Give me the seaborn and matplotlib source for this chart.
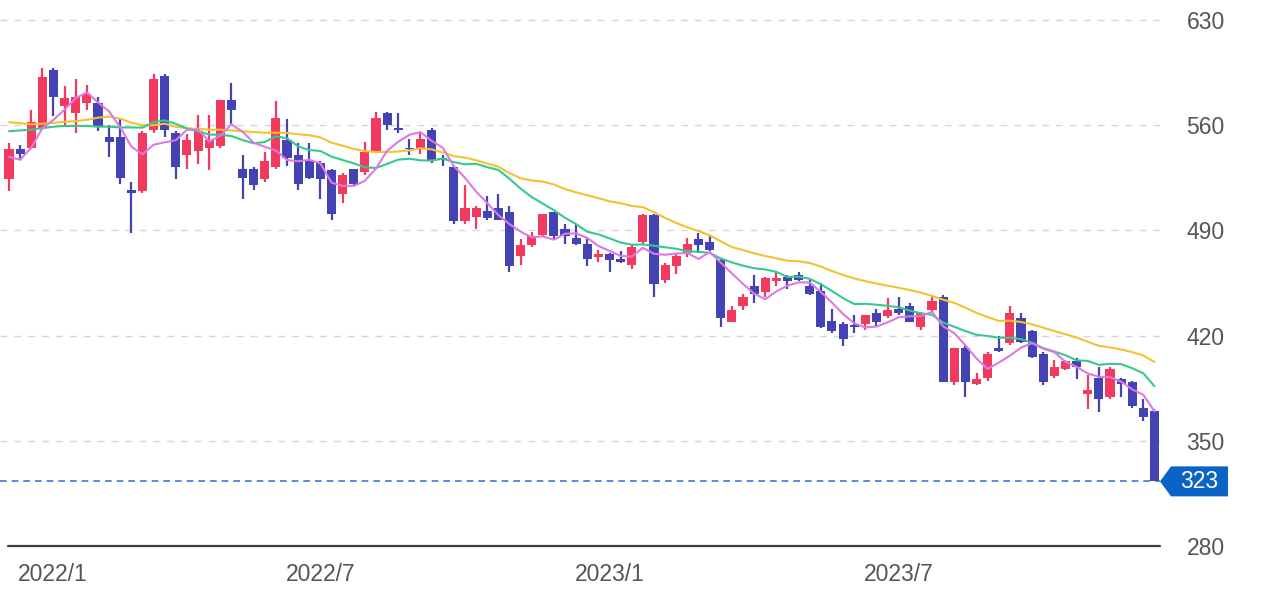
import numpy as np
import pandas as pd
import matplotlib
matplotlib.use("Agg")
import matplotlib.pyplot as plt
import seaborn as sns
from matplotlib.patches import Polygon
from matplotlib import transforms

# ---------------- data (weekly candles) ----------------
dates = pd.date_range("2021-12-20", periods=104, freq="7D")

opens = [524, 544, 545, 558, 597, 573, 568, 575, 575, 552, 552, 517, 516, 557, 593, 555,
         540, 543, 545, 546, 577, 531, 531, 524, 532, 550, 540, 536, 535, 530, 514, 531,
         529, 542, 568, 558, 545, 545, 557, 538, 532, 496, 499, 503, 505, 502, 473, 480,
         487, 502, 491, 485, 481, 472, 474, 471, 467, 482, 500, 457, 466, 475, 484, 482,
         470, 429, 440, 453, 449, 456, 459, 460, 453, 450, 430, 428, 427, 428, 435, 433,
         438, 440, 426, 437, 446, 389, 412, 388, 392, 412, 415, 432, 423, 408, 393, 398,
         403, 381, 392, 379, 391, 389, 372, 370]
highs = [548, 547, 570, 598, 598, 586, 591, 587, 579, 560, 565, 522, 556, 594, 594, 556,
         554, 567, 567, 577, 588, 540, 532, 542, 576, 564, 548, 548, 536, 531, 528, 531,
         549, 569, 569, 568, 551, 555, 558, 540, 533, 520, 506, 513, 514, 506, 484, 489,
         501, 502, 494, 494, 484, 477, 475, 476, 481, 501, 501, 468, 474, 485, 488, 486,
         471, 440, 448, 460, 459, 463, 460, 462, 457, 455, 438, 429, 434, 434, 438, 445,
         446, 442, 436, 446, 447, 412, 413, 395, 409, 420, 440, 435, 424, 409, 404, 404,
         405, 394, 399, 399, 392, 390, 378, 371]
lows = [516, 537, 544, 557, 566, 560, 555, 570, 556, 539, 521, 488, 515, 555, 552, 524,
        531, 534, 530, 545, 561, 511, 517, 522, 531, 533, 517, 524, 511, 497, 508, 520,
        527, 542, 557, 555, 540, 541, 535, 533, 494, 494, 491, 497, 497, 462, 467, 479,
        486, 484, 481, 480, 466, 469, 462, 468, 464, 481, 446, 455, 461, 472, 475, 476,
        426, 429, 437, 442, 446, 453, 451, 456, 447, 425, 422, 413, 422, 424, 426, 432,
        434, 429, 424, 436, 389, 387, 379, 387, 390, 409, 414, 415, 405, 387, 392, 397,
        391, 371, 369, 378, 379, 372, 363, 323]
closes = [544, 541, 562, 592, 579, 578, 579, 581, 559, 549, 525, 515, 555, 591, 557, 532,
          550, 556, 550, 577, 570, 525, 520, 536, 565, 538, 521, 525, 524, 501, 527, 521,
          542, 565, 560, 557, 544, 551, 536, 537, 496, 505, 505, 498, 497, 466, 480, 486,
          501, 486, 486, 481, 471, 474, 470, 469, 479, 500, 454, 467, 473, 481, 480, 477,
          432, 437, 446, 448, 458, 458, 456, 457, 448, 426, 423, 418, 426, 434, 429, 437,
          435, 429, 435, 443, 389, 412, 389, 391, 408, 410, 435, 416, 406, 389, 399, 403,
          399, 384, 378, 398, 388, 373, 366, 323]

ma5_lead = [539, 537, 545, 558]
ma13_lead = [556, 556.5, 557, 558, 559, 559.5, 559.5, 559.5, 559, 559, 558.5, 558.5]
ma26_lead = [562, 561.3, 560.6, 561, 561.5, 562.3, 562.7, 563.6, 565, 565.7, 564.4, 561.6,
             560, 560, 561, 559, 558, 557.5, 557, 557, 556.5, 556, 555.5, 555, 555]

tick_dates = ["2022-01-03", "2022-07-04", "2023-01-02", "2023-07-03"]
tick_labels = ["2022/1", "2022/7", "2023/1", "2023/7"]
y_ticks = [280, 350, 420, 490, 560, 630]
last_price = 323

# ---------------- styling ----------------
UP = "#F23A5E"
DOWN = "#4343B4"
C_MA5 = "#DE78E4"
C_MA13 = "#36C98C"
C_MA26 = "#F2C230"
LABEL_C = "#555555"

sns.set_theme(style="white")
plt.rcParams["font.family"] = ["Liberation Sans", "DejaVu Sans"]

W, H = 1279, 598
fig = plt.figure(figsize=(W / 100, H / 100), dpi=100)
ax = fig.add_axes([0, (H - 546) / H, 1160 / W, 546 / H])

df = pd.DataFrame({"date": dates, "open": opens, "high": highs, "low": lows, "close": closes})
df["i"] = np.arange(len(df))

def ma(series, n, lead):
    m = series.rolling(n).mean().to_numpy()
    m[: n - 1] = lead
    return m

df["ma5"] = ma(df["close"], 5, ma5_lead)
df["ma13"] = ma(df["close"], 13, ma13_lead)
df["ma26"] = ma(df["close"], 26, ma26_lead)

up = df["close"] >= df["open"]
colors = np.where(up, UP, DOWN)

# wicks
ax.vlines(df["i"], df["low"], df["high"], colors=colors, linewidth=1.6, zorder=2)
# bodies
body_low = np.minimum(df["open"], df["close"])
body_h = np.maximum(np.abs(df["close"] - df["open"]), 0.9)
ax.bar(df["i"], body_h, bottom=body_low, width=0.82, color=colors, linewidth=0, zorder=3)

# moving averages
sns.lineplot(x=df["i"], y=df["ma26"], ax=ax, color=C_MA26, linewidth=1.5, zorder=4)
sns.lineplot(x=df["i"], y=df["ma13"], ax=ax, color=C_MA13, linewidth=1.5, zorder=4)
sns.lineplot(x=df["i"], y=df["ma5"], ax=ax, color=C_MA5, linewidth=1.5, zorder=5)

# axes ranges
ax.set_xlim(-0.81, 103.5)
ax.set_ylim(280, 643.3)

# grid lines
for v in y_ticks[1:]:
    ax.axhline(v, color="#d6d6d6", linewidth=1.0, dashes=(5, 5), zorder=1)
ax.axhline(280, xmin=8 / 1160, xmax=1.0, color="#3c3c3c", linewidth=1.6, zorder=6, clip_on=False)

# last price line
ax.axhline(last_price, color="#3C78D8", linewidth=1.2, dashes=(4, 3), zorder=1)

for s in ax.spines.values():
    s.set_visible(False)

# y ticks on right
ax.yaxis.tick_right()
ax.set_yticks(y_ticks)
ax.set_yticklabels([str(v) for v in y_ticks])
ax.tick_params(axis="y", length=0, pad=19, labelsize=16.5, labelcolor=LABEL_C)
for lab in ax.get_yticklabels():
    lab.set_horizontalalignment("left")

# x ticks
tick_pos = [int(dates.get_loc(pd.Timestamp(d))) for d in tick_dates]
ax.set_xticks(tick_pos)
ax.set_xticklabels(tick_labels)
ax.tick_params(axis="x", length=0, pad=12, labelsize=16.5, labelcolor=LABEL_C)
first = ax.get_xticklabels()[0]
first.set_horizontalalignment("left")
first.set_transform(first.get_transform() + transforms.ScaledTranslation(-13 / 100, 0, fig.dpi_scale_trans))

ax.set_xlabel("")
ax.set_ylabel("")

# last-price tag
trans = transforms.blended_transform_factory(fig.transFigure, ax.transData)
half = 15 / 1.503
pts = [(1160 / W, last_price), (1171 / W, last_price + half), (1228 / W, last_price + half),
       (1228 / W, last_price - half), (1171 / W, last_price - half)]
tag = Polygon(pts, closed=True, transform=trans, facecolor="#0B63C5", edgecolor="none",
              clip_on=False, zorder=10)
fig.add_artist(tag)
fig.text(1199 / W, last_price, str(last_price), transform=trans, color="white", fontsize=16.5,
         ha="center", va="center", zorder=11)

fig.savefig("out.png", dpi=100)
